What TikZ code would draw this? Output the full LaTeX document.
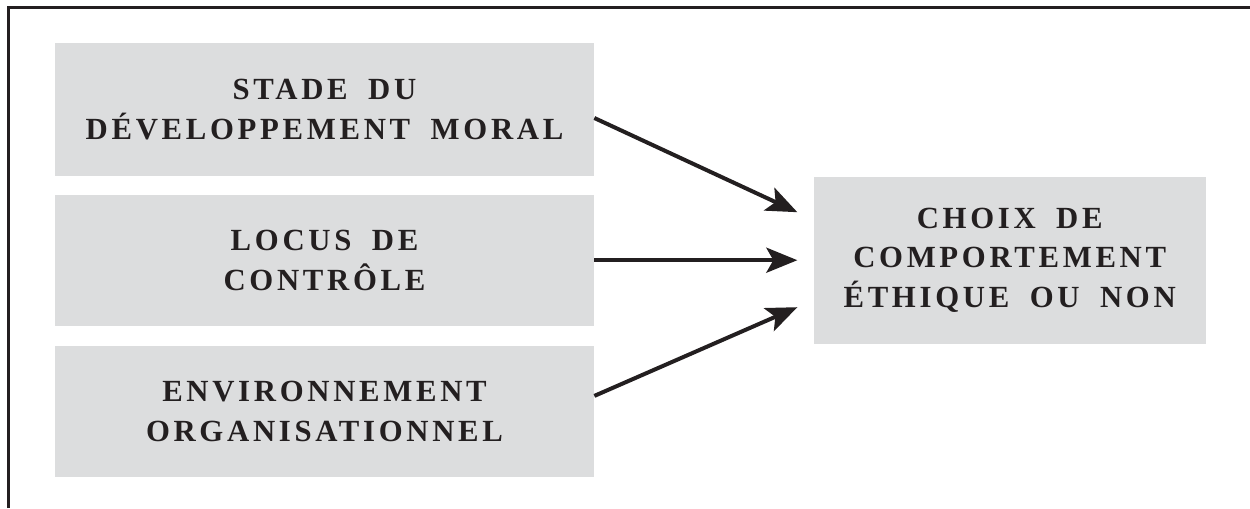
\documentclass[tikz,border=0pt]{standalone}
\usepackage{fontspec}
\setmainfont{Liberation Serif}
\usepackage{tikz}
\usetikzlibrary{arrows.meta, positioning}
\usepackage{xcolor}
\definecolor{BoxGray}{RGB}{220,221,222}
\definecolor{InkBlack}{RGB}{35,31,32}
\newfontfamily\capsfont[LetterSpace=12, WordSpace=1.8]{Liberation Serif}

\begin{document}
\begin{tikzpicture}[
          node distance=0.36cm,
          block/.style={rectangle, fill=BoxGray, text=InkBlack, align=center, inner sep=0pt, minimum width=10.78cm, minimum height=2.62cm, font=\capsfont\bfseries\fontsize{17.5}{22.7}\selectfont},
          result/.style={block, minimum width=7.84cm, minimum height=3.34cm},
          arrow/.style={-{Stealth[length=0.62cm, width=0.5cm, inset=0.14cm]}, line width=0.08cm, InkBlack},
          frame/.style={line width=0.06cm, InkBlack}
        ]
          \useasboundingbox (0,0) rectangle (25,-10.16);
          \draw [frame] (0.18,-10.16) -- (0.18,-0.15) -- (25,-0.15);

          \node (stade) [block, minimum height=2.66cm] at (6.49,-2.19) {STADE DU\\DÉVELOPPEMENT MORAL};
          \node (locus) [block, below=of stade] {LOCUS DE\\CONTRÔLE};
          \node (envir) [block, below=0.4cm of locus] {ENVIRONNEMENT\\ORGANISATIONNEL};
          \node (choix) [result, right=4.38cm of locus] {CHOIX DE\\COMPORTEMENT\\ÉTHIQUE OU NON};

          \draw [arrow] ([yshift=-0.17cm]stade.east) -- ([xshift=-0.32cm, yshift=0.96cm]choix.west);
          \draw [arrow] (locus) -- ([xshift=-0.32cm]choix.west);
          \draw [arrow] ([yshift=0.32cm]envir.east) -- ([xshift=-0.32cm, yshift=-0.94cm]choix.west);
        \end{tikzpicture}
\end{document}
